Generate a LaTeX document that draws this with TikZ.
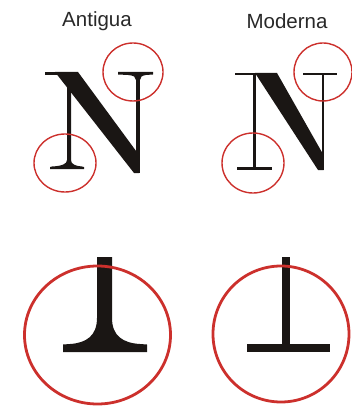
\documentclass[tikz,border=0pt]{standalone}
\usepackage{fontspec}
\setmainfont{Liberation Sans}
\definecolor{ring}{RGB}{204,48,44}
\definecolor{ink}{RGB}{26,22,20}
\definecolor{lab}{RGB}{40,40,40}
\begin{document}
\begin{tikzpicture}[x=1pt,y=-1pt,
  smallring/.style={draw=ring,line width=1.4pt},
  bigring/.style={draw=ring,line width=2.8pt},
  glyph/.style={fill=ink,draw=none},
  label/.style={text=lab,font=\fontsize{20.5}{24}\selectfont,inner sep=0pt}]
\useasboundingbox (0,0) rectangle (352,406);
% labels
\node[label] (ant) at (97,21) {Antigua};
\node[label] (mod) at (287,21) {Moderna};
% ---- Antigua N ----
\fill[glyph] (55,72) -- (78,72) -- (139,155) -- (139,173) -- (134,173) -- cycle;
\fill[glyph] (45,72) rectangle (62,75);
\fill[glyph] (67,75) -- (67,160) .. controls (67,164) and (62,166) .. (52,166.5) -- (50,167) -- (50,169) -- (84,169) -- (84,167) -- (82,166.5) .. controls (75,166) and (71,164) .. (71,160) -- (71,80) -- cycle;
\fill[glyph] (136,72) rectangle (140,173);
\fill[glyph] (118,72) -- (153,72) -- (153,74.5) -- (146,75) .. controls (142,75.5) and (140,77) .. (140,80) -- (136,80) .. controls (136,77) and (134,75.5) .. (128,75) -- (118,74.5) -- cycle;
% ---- Moderna N ----
\fill[glyph] (255,73) -- (277,73) -- (323.5,155) -- (323.5,170) -- (318,170) -- cycle;
\fill[glyph] (235,73) rectangle (272,75.5);
\fill[glyph] (252.8,73) rectangle (255.8,168);
\fill[glyph] (237,167) rectangle (272,170);
\fill[glyph] (321.5,73) rectangle (324,170);
\fill[glyph] (303,73) rectangle (337,75.5);
% ---- big details ----
\fill[glyph] (97,257) -- (97,318) .. controls (97,336) and (86,343) .. (70,344) -- (63,344.5) -- (63,352) -- (147,352) -- (147,344.5) -- (140,344) .. controls (123,343) and (112,336) .. (112,318) -- (112,257) -- cycle;
\fill[glyph] (282,257) rectangle (290,347);
\fill[glyph] (247,344) rectangle (330,352);
% ---- rings ----
\draw[smallring] (133,72) ellipse [x radius=30,y radius=29];
\draw[smallring] (65,163) ellipse [x radius=31,y radius=29];
\draw[smallring] (323,72) ellipse [x radius=29,y radius=29];
\draw[smallring] (253,163) ellipse [x radius=31,y radius=30];
\draw[bigring] (97.5,335) ellipse [x radius=73,y radius=69];
\draw[bigring] (281,334) ellipse [x radius=68,y radius=68];
\end{tikzpicture}
\end{document}
